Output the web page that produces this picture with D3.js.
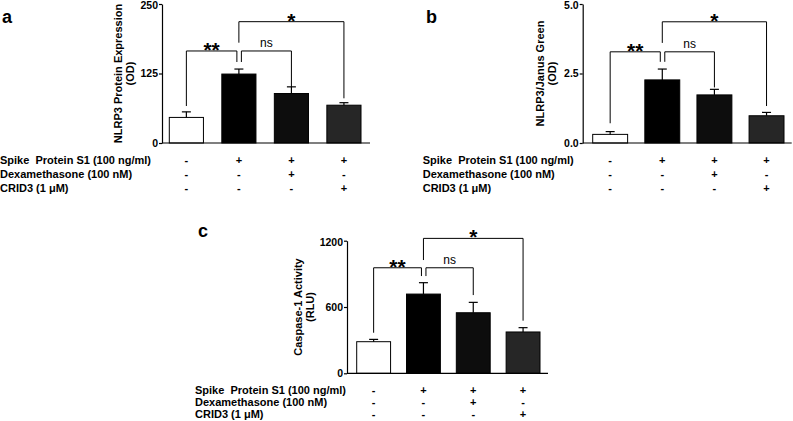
<!DOCTYPE html>
<html>
<head>
<meta charset="utf-8">
<script src="https://cdn.jsdelivr.net/npm/d3@7/dist/d3.min.js"></script>
<style>
  html, body { margin: 0; padding: 0; background: #fff; }
  svg { display: block; font-family: "Liberation Sans", Arial, sans-serif; }
  text { white-space: pre; }
</style>
</head>
<body>
<svg id="chart" width="793" height="421"></svg>
<script>
// ---------------- data ----------------
const groups = ["Control", "Spike", "Spike+Dex", "Spike+CRID3"];
const rowLabels = ["Spike  Protein S1 (100 ng/ml)", "Dexamethasone (100 nM)", "CRID3 (1 \u03bcM)"];
const spikeRow = ["-", "+", "+", "+"];
const dexRow = ["-", "-", "+", "-"];
const crid3Row = ["-", "-", "-", "+"];

const nlrp3Mean = [46, 124, 89, 68];
const nlrp3Err = [10, 9, 12, 4.5];
const nlrp3Ticks = [0, 125, 250];
const nlrp3TickLabels = ["0", "125", "250"];

const janusMean = [0.31, 2.27, 1.73, 0.98];
const janusErr = [0.10, 0.39, 0.20, 0.12];
const janusTicks = [0, 2.5, 5.0];
const janusTickLabels = ["0.0", "2.5", "5.0"];

const caspaseMean = [286, 717, 548, 374];
const caspaseErr = [21, 103, 94, 39];
const caspaseTicks = [0, 600, 1200];
const caspaseTickLabels = ["0", "600", "1200"];

// significance brackets: [from group, to group, top value, left leg end, right leg end, label]
const nlrp3Brackets = [[0, 1, 165.5, 66.5, 145.7, "**"], [1, 2, 165.5, 145.7, 100.2, "ns"], [1, 3, 218.2, 180.4, 80.4, "*"]];
const janusBrackets = [[0, 1, 3.28, 0.71, 2.92, "**"], [1, 2, 3.28, 2.92, 2.0, "ns"], [1, 3, 4.36, 3.6, 1.33, "*"]];
const caspaseBrackets = [[0, 1, 955, 367, 880, "**"], [1, 2, 955, 880, 708, "ns"], [1, 3, 1221, 1025, 476, "*"]];

const barFills = ["#ffffff", "#000000", "#0d0d0d", "#262626"];

// ---------------- drawing ----------------
const svg = d3.select("#chart");
const signRows = [spikeRow, dexRow, crid3Row];

function drawPanel(p) {
  const g = svg.append("g");
  const y = d3.scaleLinear().domain([0, p.max]).range([p.bottom, p.top]);
  const x = d3.scaleBand().domain(groups).range([p.barStart, p.barEnd]).paddingInner(p.padInner).paddingOuter(0);
  const cx = i => x(groups[i]) + x.bandwidth() / 2;

  // bars
  g.selectAll("rect.bar").data(p.mean).join("rect")
    .attr("x", (d, i) => x(groups[i]))
    .attr("y", d => y(d))
    .attr("width", x.bandwidth())
    .attr("height", d => y(0) - y(d))
    .attr("fill", (d, i) => barFills[i])
    .attr("stroke", "#000").attr("stroke-width", 1);

  // error bars (upper only)
  p.mean.forEach((m, i) => {
    const top = y(m + p.err[i]);
    g.append("line").attr("x1", cx(i)).attr("x2", cx(i)).attr("y1", y(m)).attr("y2", top)
      .attr("stroke", "#000").attr("stroke-width", 1.2);
    g.append("line").attr("x1", cx(i) - 4.5).attr("x2", cx(i) + 4.5).attr("y1", top).attr("y2", top)
      .attr("stroke", "#000").attr("stroke-width", 1.2);
  });

  // y axis
  const yAxis = d3.axisLeft(y).tickValues(p.ticks).tickFormat((d, i) => p.tickLabels[i])
    .tickSize(3).tickPadding(1).tickSizeOuter(0);
  const ay = g.append("g").attr("transform", `translate(${p.axisX},0)`).call(yAxis);
  ay.select(".domain").attr("stroke", "#000").attr("stroke-width", 1.2);
  ay.selectAll(".tick line").attr("stroke", "#000").attr("stroke-width", 1.2);
  ay.selectAll(".tick text").attr("font-size", "10.5px").attr("font-weight", "bold")
    .attr("font-family", "Liberation Sans, Arial, sans-serif").attr("fill", "#000")
    .attr("dy", (d, i) => i === p.ticks.length - 1 ? "0.45em" : "0.32em");

  // x axis baseline
  g.append("line").attr("x1", p.axisX).attr("x2", p.axisEnd).attr("y1", y(0)).attr("y2", y(0))
    .attr("stroke", "#000").attr("stroke-width", 1.2);

  // y title
  const tt = g.append("text")
    .attr("transform", `translate(${p.titleX},${(p.top + p.bottom) / 2}) rotate(-90)`)
    .attr("text-anchor", "middle").attr("font-size", "11px").attr("font-weight", "bold")
    .attr("fill", "#000");
  tt.append("tspan").attr("x", 0).attr("y", 0).text(p.title1);
  tt.append("tspan").attr("x", 0).attr("y", 12).text(p.title2);

  // panel letter
  g.append("text").attr("x", p.letterX).attr("y", p.letterY).attr("font-size", "18px")
    .attr("font-weight", "bold").attr("fill", "#000").text(p.letter);

  // brackets
  p.brackets.forEach(b => {
    const [i0, i1, topV, lV, rV, lab] = b;
    let x0 = cx(i0), x1 = cx(i1);
    if (lab === "**") x1 -= 2;
    if (lab === "ns") x0 += 2.5;
    const yt = y(topV);
    g.append("path")
      .attr("d", `M${x0},${y(lV)}V${yt}H${x1}V${y(rV)}`)
      .attr("fill", "none").attr("stroke", "#000").attr("stroke-width", 1);
    const isStar = lab.indexOf("*") >= 0;
    g.append("text").attr("x", (x0 + x1) / 2).attr("y", isStar ? yt + 6 : yt - 4)
      .attr("text-anchor", "middle")
      .attr("font-size", isStar ? "21px" : "12px")
      .attr("font-weight", isStar ? "bold" : "normal")
      .attr("fill", "#000")
      .text(lab);
  });

  // treatment rows
  rowLabels.forEach((lab, r) => {
    const yy = y(0) + p.rowY0 + r * p.rowStep;
    g.append("text").attr("x", p.rowLabelX).attr("y", yy).attr("font-size", "11px")
      .attr("font-weight", "bold").attr("fill", "#000").text(lab);
    signRows[r].forEach((s, i) => {
      g.append("text").attr("x", cx(i)).attr("y", yy).attr("text-anchor", "middle")
        .attr("font-size", "11px").attr("font-weight", "bold").attr("fill", "#000").text(s);
    });
  });
}

drawPanel({
  mean: nlrp3Mean, err: nlrp3Err, max: 250, ticks: nlrp3Ticks, tickLabels: nlrp3TickLabels,
  brackets: nlrp3Brackets, top: 4, bottom: 143, axisX: 162, axisEnd: 370,
  barStart: 169.3, barEnd: 361, padInner: 0.35,
  title1: "NLRP3 Protein Expression", title2: "(OD)", titleX: 122,
  letter: "a", letterX: 2, letterY: 23, rowLabelX: 0, rowY0: 21, rowStep: 14
});

drawPanel({
  mean: janusMean, err: janusErr, max: 5, ticks: janusTicks, tickLabels: janusTickLabels,
  brackets: janusBrackets, top: 4, bottom: 143, axisX: 582.7, axisEnd: 791.7,
  barStart: 592.7, barEnd: 784, padInner: 0.33,
  title1: "NLRP3/Janus Green", title2: "(OD)", titleX: 544,
  letter: "b", letterX: 426, letterY: 23, rowLabelX: 422.7, rowY0: 21, rowStep: 14
});

drawPanel({
  mean: caspaseMean, err: caspaseErr, max: 1200, ticks: caspaseTicks, tickLabels: caspaseTickLabels,
  brackets: caspaseBrackets, top: 240.7, bottom: 373.3, axisX: 347, axisEnd: 548,
  barStart: 356.7, barEnd: 540, padInner: 0.32,
  title1: "Caspase-1 Activity", title2: "(RLU)", titleX: 302,
  letter: "c", letterX: 198, letterY: 237, rowLabelX: 195, rowY0: 20.7, rowStep: 12
});
</script>
</body>
</html>
